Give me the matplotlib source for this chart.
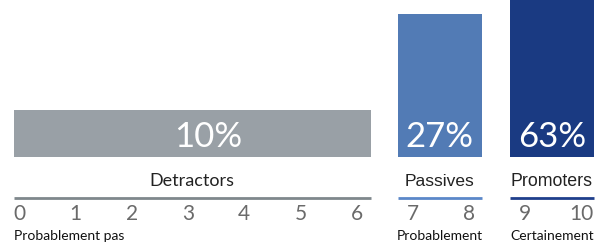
import matplotlib
matplotlib.use("Agg")
import matplotlib.pyplot as plt

# ---- data ----
groups = ["Detractors", "Passives", "Promoters"]
shares = [10, 27, 63]
labels = ["10%", "27%", "63%"]
group_scores = [[0, 1, 2, 3, 4, 5, 6], [7, 8], [9, 10]]
bottom_texts = ["Probablement pas", "Probablement", "Certainement"]

# ---- style ----
colors = ["#99a0a6", "#527bb5", "#1a3a82"]
line_colors = ["#7f878c", "#5b87c9", "#1f3f8c"]
cat_fonts = ["Lato", "Liberation Sans", "Liberation Sans"]
cat_sizes = [13, 12.5, 12.8]
pad_left = [0.1, 0.27, 0.27]
pad_right = [0.25, 0.23, 0.22]
label_shift = [0.28, 0.0, 0.0]

W, H = 606, 244
fig = plt.figure(figsize=(W / 100, H / 100), dpi=100)

xmin, xmax = -0.347, 10.436

# bar axes
bar_bottom_px = 157
axb = fig.add_axes([0, (H - bar_bottom_px) / H, 1, bar_bottom_px / H])
axb.set_xlim(xmin, xmax)
axb.set_ylim(1.7, 29.5)
axb.axis("off")

# text axes in pixel units vertically
axt = fig.add_axes([0, 0, 1, 1])
axt.set_xlim(xmin, xmax)
axt.set_ylim(H, 0)
axt.axis("off")

for i, g in enumerate(groups):
    sc = group_scores[i]
    lo = sc[0] - pad_left[i]
    hi = sc[-1] + pad_right[i]
    axb.bar(lo, shares[i], width=hi - lo, align="edge", color=colors[i],
            bottom=0, clip_on=True)
    cx = (lo + hi) / 2
    axt.text(cx + label_shift[i], 147, labels[i], color="white", fontsize=25,
             family="Lato", fontweight="normal", ha="center", va="baseline")
    axt.text(cx, 181, g, color="#222222", fontsize=cat_sizes[i], family=cat_fonts[i],
             ha="center", va="center")
    axt.plot([lo, hi], [198, 198], color=line_colors[i], lw=2,
             solid_capstyle="butt")
    for s in sc:
        axt.text(s, 214.5, str(s), color="#6a6a6a", fontsize=15, family="Lato",
                 fontweight="normal", ha="center", va="center")
    if i == 0:
        axt.text(lo, 236, bottom_texts[i], color="#111111", fontsize=10,
                 family="Lato", ha="left", va="center")
    else:
        axt.text(cx, 236, bottom_texts[i], color="#111111", fontsize=10,
                 family="Lato", ha="center", va="center")

fig.savefig("out.png", dpi=100)
